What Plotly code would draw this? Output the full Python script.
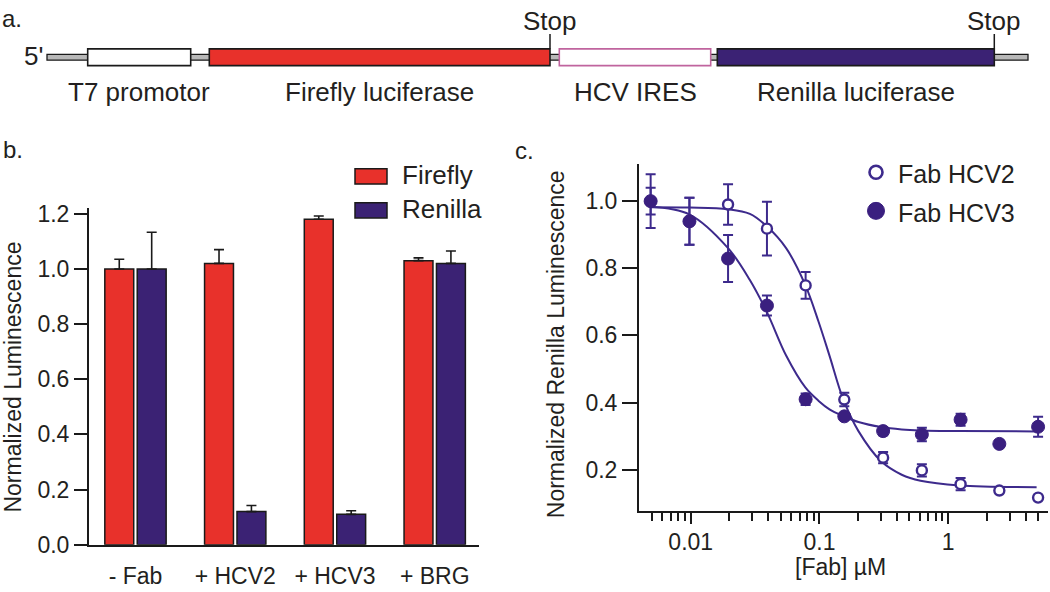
import plotly.graph_objects as go

# ---------------- Panel a: construct map (positions along construct, diagram units) -------------
elements = ["T7 promotor", "Firefly luciferase", "HCV IRES", "Renilla luciferase"]
element_start = [87.7, 209.3, 559.3, 717.3]
element_end = [190.7, 550.0, 710.7, 994.3]
backbone_span = [47.0, 1028.0]
stop_sites = [550.0, 994.3]

# ---------------- Panel b: normalized luminescence ----------------
conditions = ["- Fab", "+ HCV2", "+ HCV3", "+ BRG"]
firefly = [1.00, 1.02, 1.18, 1.03]
firefly_err = [0.035, 0.05, 0.012, 0.01]
renilla = [1.00, 0.12, 0.11, 1.02]
renilla_err = [0.133, 0.022, 0.013, 0.045]

# ---------------- Panel c: dose response ----------------
fab_conc = [0.00488, 0.00977, 0.0195, 0.0391, 0.0781, 0.156, 0.3125, 0.625, 1.25, 2.5, 5.0]
hcv2 = [1.00, 0.94, 0.99, 0.918, 0.749, 0.409, 0.236, 0.198, 0.157, 0.138, 0.117]
hcv2_err = [0.08, 0.07, 0.06, 0.08, 0.04, 0.02, 0.017, 0.018, 0.018, 0.005, 0.005]
hcv3 = [1.00, 0.94, 0.829, 0.689, 0.41, 0.359, 0.315, 0.305, 0.349, 0.277, 0.328]
hcv3_err = [0.04, 0.07, 0.07, 0.03, 0.017, 0.01, 0.012, 0.02, 0.018, 0.01, 0.03]

fit_conc = [0.00486, 0.0098, 0.0195, 0.0288, 0.039, 0.0551, 0.0777, 0.0986, 0.1197,
            0.153, 0.201, 0.302, 0.436, 0.61, 1.23, 4.87]
hcv2_fit = [0.982, 0.981, 0.976, 0.962, 0.925, 0.86, 0.75, 0.64, 0.54,
            0.41, 0.315, 0.225, 0.185, 0.167, 0.153, 0.148]
hcv3_fit = [0.983, 0.96, 0.86, 0.765, 0.67, 0.54, 0.445, 0.405, 0.38,
            0.36, 0.342, 0.327, 0.32, 0.317, 0.315, 0.314]

# ---------------- styles ----------------
W, H = 1050, 592
FONT = "Liberation Sans, Arial, Helvetica, sans-serif"
TXT = "#231f20"
RED = "#e8312b"
BLUE = "#3b2274"
PURPLE = "#3d2a8c"
PINK = "#c0649e"


def px(x):
    return x / W


def py(y):
    return 1 - y / H


def note(x, y, text, size=23, xanchor="center", ref=("paper", "paper"), angle=0):
    return dict(x=x, y=y, xref=ref[0], yref=ref[1], text=text, showarrow=False,
                xanchor=xanchor, yanchor="middle", textangle=angle,
                font=dict(size=size, color=TXT, family=FONT))


fig = go.Figure()

# ---- panel a (xaxis3 / yaxis3) ----
fig.add_trace(go.Bar(
    orientation="h", y=[52], x=[backbone_span[1] - backbone_span[0]], base=[backbone_span[0]],
    width=[6], offset=-3, marker=dict(color="#b8b8b8", line=dict(color="#1a1a1a", width=1.3)),
    xaxis="x3", yaxis="y3", showlegend=False, hoverinfo="skip"))
fig.add_trace(go.Bar(
    orientation="h", y=[52] * len(elements),
    x=[e - s for s, e in zip(element_start, element_end)], base=element_start,
    width=[17.4] * len(elements), offset=-8.7,
    marker=dict(color=["white", RED, "white", BLUE],
                line=dict(color=["#1a1a1a", "#1a1a1a", PINK, "#1a1a1a"], width=1.6)),
    xaxis="x3", yaxis="y3", showlegend=False, hoverinfo="skip"))
sx, sy = [], []
for s in stop_sites:
    sx += [s, s, None]
    sy += [28, 43, None]
fig.add_trace(go.Scatter(x=sx, y=sy, mode="lines", line=dict(color="#1a1a1a", width=1.5),
                         xaxis="x3", yaxis="y3", showlegend=False, hoverinfo="skip"))

annotations = []
for name, s, e in zip(elements, element_start, element_end):
    annotations.append(note((s + e) / 2, 88, name, size=26, ref=("x3", "y3")))
for s in stop_sites:
    annotations.append(note(s, 14, "Stop", size=26, ref=("x3", "y3")))
annotations.append(note(45, 51, "5'", size=26, xanchor="right", ref=("x3", "y3")))

# ---- panel b ----
fig.add_trace(go.Bar(
    x=conditions, y=firefly, name="Firefly", marker=dict(color=RED, line=dict(color="#1a1a1a", width=1.5)),
    error_y=dict(type="data", array=firefly_err, arrayminus=[0] * 4, symmetric=False,
                 color="#1a1a1a", thickness=1.6, width=5),
    xaxis="x", yaxis="y", showlegend=False))
fig.add_trace(go.Bar(
    x=conditions, y=renilla, name="Renilla", marker=dict(color=BLUE, line=dict(color="#1a1a1a", width=1.5)),
    error_y=dict(type="data", array=renilla_err, arrayminus=[0] * 4, symmetric=False,
                 color="#1a1a1a", thickness=1.6, width=5),
    xaxis="x", yaxis="y", showlegend=False))

# ---- panel c ----
fig.add_trace(go.Scatter(x=fit_conc, y=hcv2_fit, mode="lines", line=dict(color=PURPLE, width=2, shape="spline"),
                         xaxis="x2", yaxis="y2", showlegend=False, hoverinfo="skip"))
fig.add_trace(go.Scatter(x=fit_conc, y=hcv3_fit, mode="lines", line=dict(color=PURPLE, width=2, shape="spline"),
                         xaxis="x2", yaxis="y2", showlegend=False, hoverinfo="skip"))
fig.add_trace(go.Scatter(
    x=fab_conc, y=hcv2, mode="markers", name="Fab HCV2",
    marker=dict(symbol="circle", size=10, color="white", line=dict(color=PURPLE, width=2.4)),
    error_y=dict(type="data", array=hcv2_err, color=PURPLE, thickness=2, width=5),
    xaxis="x2", yaxis="y2", showlegend=False))
fig.add_trace(go.Scatter(
    x=fab_conc, y=hcv3, mode="markers", name="Fab HCV3",
    marker=dict(symbol="circle", size=13, color="#3a1f7f", line=dict(color="#3a1f7f", width=1)),
    error_y=dict(type="data", array=hcv3_err, color=PURPLE, thickness=2, width=5),
    xaxis="x2", yaxis="y2", showlegend=False))

# ---- legends (manual) ----
shapes = []
for (y0, y1, col) in [(167.3, 183.3, RED), (202.7, 218.3, BLUE)]:
    shapes.append(dict(type="rect", xref="paper", yref="paper", x0=px(355), x1=px(387),
                       y0=py(y1), y1=py(y0), fillcolor=col, line=dict(color="#1a1a1a", width=1.5)))
annotations.append(note(px(400), py(174), "Firefly", size=26, xanchor="left"))
annotations.append(note(px(400), py(209), "Renilla", size=26, xanchor="left"))

shapes.append(dict(type="circle", xref="paper", yref="paper", xsizemode="pixel", ysizemode="pixel",
                   xanchor=px(876), yanchor=py(171), x0=-6.5, x1=6.5, y0=-6.5, y1=6.5,
                   fillcolor="white", line=dict(color=PURPLE, width=2.6)))
shapes.append(dict(type="circle", xref="paper", yref="paper", xsizemode="pixel", ysizemode="pixel",
                   xanchor=px(876), yanchor=py(211), x0=-8.5, x1=8.5, y0=-8.5, y1=8.5,
                   fillcolor="#3a1f7f", line=dict(color="#3a1f7f", width=1)))
annotations.append(note(px(896), py(173), "Fab HCV2", size=25, xanchor="left"))
annotations.append(note(px(896), py(213), "Fab HCV3", size=25, xanchor="left"))

# ---- panel letters & axis titles ----
for letter, x, y in [("a.", 12, 12), ("b.", 13, 147), ("c.", 524, 149)]:
    annotations.append(note(px(x), py(y), letter, size=24))
annotations.append(note(px(13), py(383.5), "Normalized Luminescence", size=23, angle=-90))
annotations.append(note(px(556), py(349), "Normalized Renilla Luminescence", size=23, angle=-90))
annotations.append(note(px(840), py(580), "[Fab] µM", size=23))

axis_common = dict(showgrid=False, zeroline=False, showline=True, linecolor="#1a1a1a", linewidth=2,
                   tickfont=dict(size=23, color=TXT, family=FONT), tickwidth=2)

fig.update_layout(
    width=W, height=H, autosize=False,
    margin=dict(l=0, r=0, t=0, b=0),
    paper_bgcolor="white", plot_bgcolor="rgba(0,0,0,0)",
    barmode="group", bargap=0.35, bargroupgap=0.108,
    showlegend=False,
    font=dict(family=FONT, color=TXT),
    xaxis=dict(domain=[px(89), px(479)], type="category", range=[-0.466, 3.444],
               ticks="outside", ticklen=10, tickcolor="rgba(0,0,0,0)", **axis_common),
    yaxis=dict(domain=[py(556.5), py(208.3)], range=[0, 1.22], tickvals=[0, 0.2, 0.4, 0.6, 0.8, 1.0, 1.2],
               tickformat=".1f", ticks="outside", ticklen=13, tickcolor="#1a1a1a", **axis_common),
    xaxis2=dict(domain=[px(639), px(1048)], type="log", range=[-2.402, 0.776], anchor="y2",
                tickvals=[0.01, 0.1, 1], ticktext=["0.01", "0.1", "1"], ticks="outside", ticklen=11,
                tickcolor="#1a1a1a", ticklabelstandoff=-2,
                minor=dict(ticks="outside", ticklen=8, tickwidth=2, tickcolor="#1a1a1a",
                           tickvals=[0.005, 0.006, 0.007, 0.008, 0.009,
                                     0.02, 0.03, 0.04, 0.05, 0.06, 0.07, 0.08, 0.09,
                                     0.2, 0.3, 0.4, 0.5, 0.6, 0.7, 0.8, 0.9,
                                     2, 3, 4, 5]),
                **axis_common),
    yaxis2=dict(domain=[py(522), py(162.7)], range=[0.076, 1.11], anchor="x2",
                tickvals=[0.2, 0.4, 0.6, 0.8, 1.0], tickformat=".1f", ticks="outside", ticklen=15,
                tickcolor="#1a1a1a", **axis_common),
    xaxis3=dict(domain=[0, 1], range=[0, 1050], visible=False, anchor="y3"),
    yaxis3=dict(domain=[py(110), 1], range=[110, 0], visible=False, anchor="x3"),
    shapes=shapes,
    annotations=annotations,
)

fig.write_html("out.html", config={"displayModeBar": False},
               post_script="document.body.style.margin='0';document.body.style.padding='0';")
